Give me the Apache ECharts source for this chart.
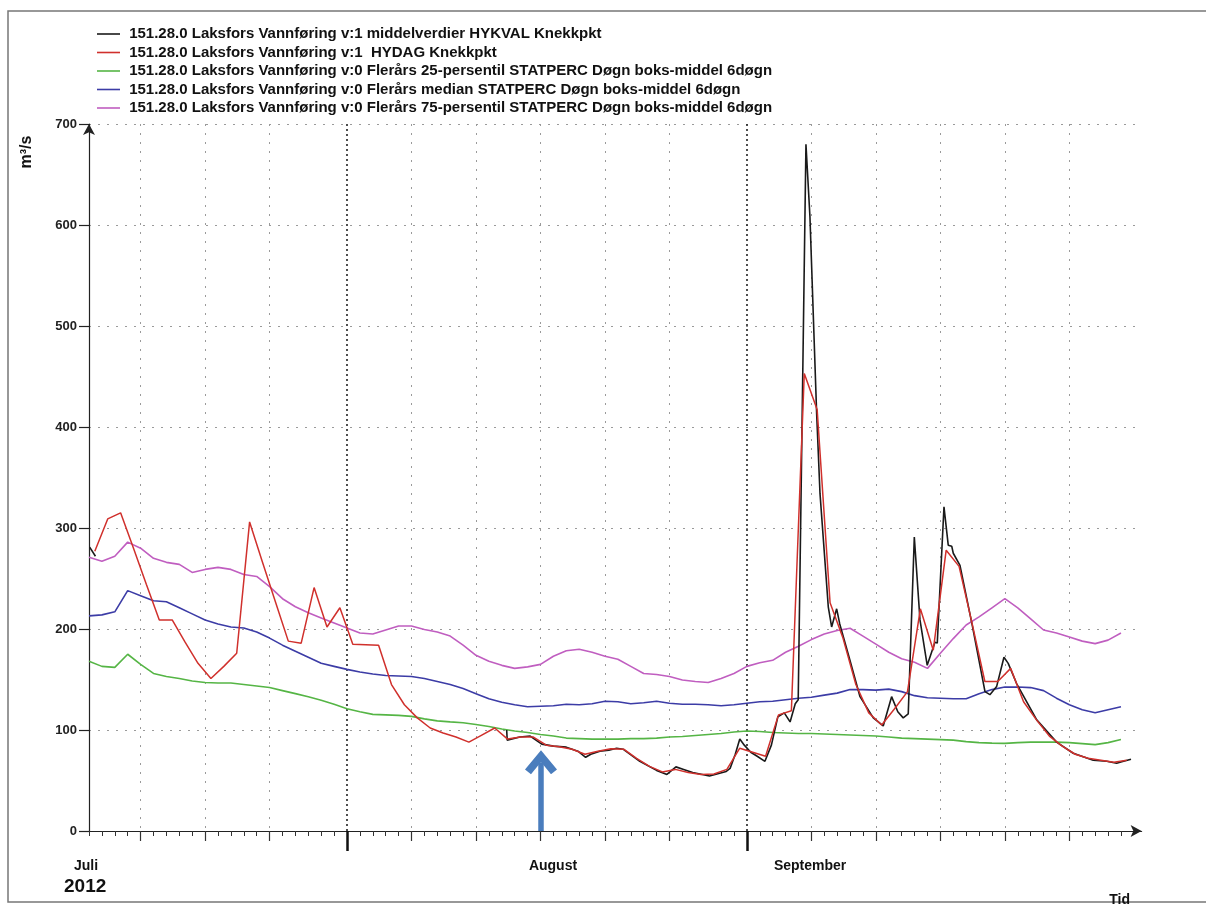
<!DOCTYPE html>
<html><head><meta charset="utf-8">
<script src="https://cdn.jsdelivr.net/npm/echarts@6/dist/echarts.min.js"></script>
<style>html,body{margin:0;padding:0;background:#fff}#c{width:1206px;height:906px}</style>
</head><body><div id="c"></div>
<script>
// ---- data (x = days since 1 July 2012) ----
const seriesNames = [
  '151.28.0 Laksfors Vannføring v:1 middelverdier HYKVAL Knekkpkt',
  '151.28.0 Laksfors Vannføring v:1  HYDAG Knekkpkt',
  '151.28.0 Laksfors Vannføring v:0 Flerårs 25-persentil STATPERC Døgn boks-middel 6døgn',
  '151.28.0 Laksfors Vannføring v:0 Flerårs median STATPERC Døgn boks-middel 6døgn',
  '151.28.0 Laksfors Vannføring v:0 Flerårs 75-persentil STATPERC Døgn boks-middel 6døgn'
];
const firstDay = 11; // 12 July
// HYDAG daily values, 12 Jul .. 30 Sep
const hydag = [277,309,315,280,244,209,209,187,166,151,
  163,176,306,266,227,188,186,241,202,221,
  185,184.5,184,145,125,112,102,97,93,88,
  95,102,91,93,93,85,83.5,81,76,79,
  81.5,81,72,64,58.5,61,58,56,56.5,61,
  82,78,74,115,119,453,417,226,191,145,
  117,105,121,138,220,179,278,262,206,148,
  148,161,128,110,94,84,76,72,70,68,
  70];
// HYKVAL knee points [day, value]
const hykval = [[11.05,281],[11.5,272],[30,'-'],
  [43.38,100],[43.42,90],[44.4,93],[45.2,94],[46.1,86],[47.0,84],[48.0,83],[48.9,79],[49.5,73],[49.9,76],
  [50.6,79],[51.3,80],[51.9,82],[52.4,81],[53.7,69],[55.0,60],[55.8,56],[56.5,63.5],[57.1,61],[57.8,58],
  [59.1,54.5],[60.4,59],[60.7,62],[61.1,76],[61.45,91],[61.8,85],[62.3,78],[62.8,74],[63.4,69],[63.9,85],
  [64.4,113],[64.9,117],[65.35,108],[65.75,126],[65.98,130],[66.58,680],[66.89,608],[67.41,413],[67.67,334],
  [68.31,222],[68.57,202],[68.96,220],[69.2,205],[69.99,169],[70.77,133],[71.8,112],[72.57,104],[73.22,133],
  [73.7,118],[74.12,112],[74.51,116],[74.98,291],[75.42,209],[75.98,164],[76.58,187],[76.76,186],[77.28,321],
  [77.61,283],[77.88,282],[78.0,275],[78.52,263],[79.45,205],[80.46,138],[80.84,135],[81.36,143],[81.93,172],
  [82.26,166],[82.91,146],[84.47,110],[86.01,88],[87.3,77],[88.85,70],[89.89,69],[90.67,67],[90.92,68],[91.78,71]];
const p25 = [168,163,162,175,165,156,153,151,148.5,147,
  146.5,146.5,145,143.5,142,139,136,133,129.5,125.5,
  121,118,115.5,115,114.5,113.5,111,109,108,107.2,
  105.5,103.5,101,99,97.5,95.5,94,92,91.5,91,
  91,91,91.5,91.5,92,93,93.5,94.5,95.5,96.5,
  98,99,98.5,97.5,97,96.5,96.5,96,95.5,95,
  94.5,94,93,92,91.5,91,90.5,90,88.5,87.5,
  87,86.8,87.5,88,88,88,87.5,86.5,85.5,87.5,
  90.5];
const median = [213,214,217,238,233,228,227,221,215,209,
  205,202,201,197,191,184,178,172,166,163,
  160,157.5,155.5,154,153.5,153,151,148,145,141,
  136,131,127.5,125,123,123.5,124,125.5,125,126,
  128.5,128,126,127,128.5,126.5,125.5,125.5,125,124,
  125,126.5,128,128.5,130,131.5,132.5,134.5,136.5,140,
  140,139.5,140.5,138,134,132,131.5,131,131,136,
  140,142.5,142.5,142,139,131.5,125,120,117,120,
  123];
const p75 = [271,267,272,286,280,270,266,264,256,259,
  261,259,254,252,242,230,222,216,211,206,
  201,196,195,199,203,203,199.5,197,193,184,
  174,168,164,161,162.5,165,173,178.5,180,177,
  173,170,163,156,155,153,149.5,148,147,151,
  156,163,166.5,169,177,183,189.5,195,198.5,200.7,
  193,185,177,170.5,167,161,176,190.5,204,212,
  221,230,221,210,199,196,192,188,185.5,189,
  196];
// axis ticks
const fiveDayTicks = [15,20,25,36,41,46,51,56,67,72,77,82,87];
const monthStartTicks = [31,62];
const monthLabels = ['Juli','August','September'];
const monthLabelDays = [10.77,46.97,66.9];
const yearLabel = '2012';
const xAxisName = 'Tid';
const yAxisName = 'm³/s';
const arrowDay = 46.04, arrowTop = 68;

const dayTicks = [];
for (let d = 11; d <= 91; d++) dayTicks.push(d);
const colors = ['#1a1a1a','#d0302c','#55b545','#3c3ca6','#c05ec0'];
const FONT = '"Liberation Sans", Arial, sans-serif';
const grid = {left:89, top:124, right:64.4, bottom:75};
const X0 = 11, X1 = 92.6;

const daily = (arr, off) => arr.map((v,i)=>[firstDay+i+off, v]);

const chart = echarts.init(document.getElementById('c'));
const baseX = {type:'value', min:X0, max:X1, position:'bottom', axisLabel:{show:false}};
const chevron = 'path://M0,14 L12,0 L24,14 L19.5,17.5 L12,8.5 L4.5,17.5 Z';
const option = {
  animation:false,
  backgroundColor:'#fff',
  grid: grid,
  legend: {
    orient:'vertical', left:97, top:26.5, itemWidth:23, itemHeight:1.6, itemGap:3.5, padding:0,
    icon:'rect',
    selectedMode:false, formatter: n => ' ' + n,
    textStyle:{fontFamily:FONT, fontWeight:'bold', fontSize:15, color:'#111', lineHeight:15},
    data: seriesNames
  },
  xAxis: [
    Object.assign({}, baseX, {
      axisLine:{show:true, onZero:false, symbol:['none','arrow'], symbolSize:[9,11], lineStyle:{color:'#222', width:1.2}},
      axisTick:{show:true, customValues:dayTicks, length:5, lineStyle:{color:'#333', width:1}},
      splitLine:{show:false}
    }),
    Object.assign({}, baseX, {
      axisLine:{show:false},
      axisTick:{show:true, customValues:fiveDayTicks, length:10, lineStyle:{color:'#333', width:1.2}},
      splitLine:{show:true, lineStyle:{color:'#9a9a9a', type:[2,7], width:1}}
    }),
    Object.assign({}, baseX, {
      axisLine:{show:false},
      axisTick:{show:true, customValues:monthStartTicks, length:20, lineStyle:{color:'#111', width:2.5}},
      splitLine:{show:true, lineStyle:{color:'#222', type:[2,3], width:1.6}}
    })
  ],
  yAxis: {
    type:'value', min:0, max:700, interval:100,
    axisLine:{show:true, symbol:['none','arrow'], symbolSize:[9,11], lineStyle:{color:'#222', width:1.2}},
    axisTick:{show:true, length:10, lineStyle:{color:'#222', width:1.2}},
    axisLabel:{fontFamily:FONT, fontWeight:'bold', fontSize:13, color:'#222', margin:12},
    splitLine:{show:true, lineStyle:{color:'#9a9a9a', type:[2,7], width:1}}
  },
  series: [
    {name:seriesNames[0], type:'line', data:hykval, z:4, symbol:'none', connectNulls:false,
      lineStyle:{color:colors[0], width:1.6}, itemStyle:{color:colors[0]}},
    {name:seriesNames[1], type:'line', data:daily(hydag,0.45), z:5, symbol:'none',
      lineStyle:{color:colors[1], width:1.5}, itemStyle:{color:colors[1]}},
    {name:seriesNames[2], type:'line', data:daily(p25,0), z:3, symbol:'none',
      lineStyle:{color:colors[2], width:1.6}, itemStyle:{color:colors[2]},
      markLine:{silent:true, animation:false, symbol:['none',chevron],
        symbolSize:[32,24], symbolKeepAspect:false, label:{show:false},
        lineStyle:{color:'#4a7dbd', width:5.5, type:'solid'},
        emphasis:{disabled:true},
        data:[[{coord:[arrowDay,0]},{coord:[arrowDay,arrowTop]}]]}},
    {name:seriesNames[3], type:'line', data:daily(median,0), z:3, symbol:'none',
      lineStyle:{color:colors[3], width:1.6}, itemStyle:{color:colors[3]}},
    {name:seriesNames[4], type:'line', data:daily(p75,0), z:3, symbol:'none',
      lineStyle:{color:colors[4], width:1.6}, itemStyle:{color:colors[4]}}
  ]
};
chart.setOption(option);

const px = d => chart.convertToPixel({xAxisIndex:0}, d);
const bold = (size) => 'bold ' + size + 'px ' + FONT;
const graphics = [
  {type:'rect', silent:true, shape:{x:8, y:11, width:1210, height:891}, style:{fill:'none', stroke:'#777', lineWidth:1.5}},
  {type:'text', silent:true, x:27, y:152, rotation:Math.PI/2,
    style:{text:yAxisName, font:bold(16), fill:'#111', textAlign:'center', textVerticalAlign:'middle'}},
  {type:'text', silent:true, x:px(monthLabelDays[0]) - 22, y:887,
    style:{text:yearLabel, font:bold(19), fill:'#111', textAlign:'left', textVerticalAlign:'middle'}},
  {type:'text', silent:true, x:px(X1) - 22, y:900,
    style:{text:xAxisName, font:bold(14), fill:'#111', textAlign:'center', textVerticalAlign:'middle'}}
];
monthLabels.forEach((m,i)=>{
  graphics.push({type:'text', silent:true, x:px(monthLabelDays[i]), y:866,
    style:{text:m, font:bold(14), fill:'#111', textAlign:'center', textVerticalAlign:'middle'}});
});
chart.setOption({graphic: graphics});
</script>
</body></html>
